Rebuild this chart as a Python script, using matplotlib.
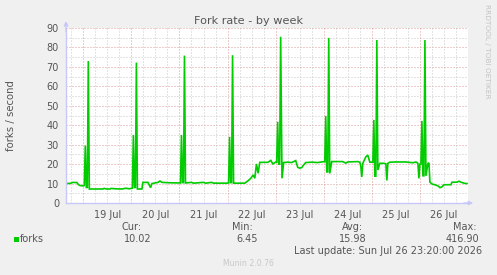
import matplotlib
matplotlib.use("Agg")
import matplotlib.pyplot as plt
import matplotlib.dates as mdates
import pandas as pd
import numpy as np

# ---------------- data ----------------
times = [
    "07-18 15:30", "07-18 17:30", "07-18 18:50", "07-18 20:50", "07-18 21:30", "07-18 22:20", "07-18 23:50",
    "07-19 00:30", "07-19 01:00", "07-19 01:30", "07-19 02:00", "07-19 02:30", "07-19 03:00",
    "07-19 09:50", "07-19 10:20", "07-19 11:50", "07-19 13:20", "07-19 13:50", "07-19 15:50", "07-19 19:20",
    "07-19 21:20", "07-19 22:50", "07-19 23:50",
    "07-20 00:30", "07-20 01:00", "07-20 01:30", "07-20 02:00", "07-20 02:30", "07-20 03:00",
    "07-20 05:15", "07-20 05:45", "07-20 08:15", "07-20 09:35", "07-20 10:15", "07-20 11:45", "07-20 13:15",
    "07-20 14:15", "07-20 15:15", "07-20 17:15", "07-20 19:15", "07-20 23:15",
    "07-21 00:30", "07-21 01:00", "07-21 01:30", "07-21 02:00", "07-21 02:30", "07-21 03:00",
    "07-21 06:00", "07-21 07:00", "07-21 12:00", "07-21 13:00", "07-21 16:00", "07-21 17:00", "07-21 23:30",
    "07-22 00:30", "07-22 01:00", "07-22 01:30", "07-22 02:00", "07-22 02:30", "07-22 03:00",
    "07-22 08:35", "07-22 10:05", "07-22 11:35", "07-22 12:45", "07-22 13:35", "07-22 14:25", "07-22 15:15",
    "07-22 16:05", "07-22 20:05", "07-22 21:35", "07-22 22:35",
    "07-23 00:00", "07-23 00:30", "07-23 01:00", "07-23 01:30", "07-23 02:00", "07-23 02:30", "07-23 03:10",
    "07-23 04:00", "07-23 06:00", "07-23 08:00", "07-23 10:00", "07-23 11:00", "07-23 12:00", "07-23 13:00",
    "07-23 14:00", "07-23 15:00", "07-23 18:00", "07-23 21:00", "07-23 23:30",
    "07-24 00:30", "07-24 01:00", "07-24 01:30", "07-24 02:00", "07-24 02:30", "07-24 03:00",
    "07-24 04:00", "07-24 09:30", "07-24 11:00", "07-24 12:00", "07-24 17:00", "07-24 18:00", "07-24 18:30",
    "07-24 19:00", "07-24 19:30", "07-24 21:00", "07-24 22:00", "07-24 23:00",
    "07-25 00:30", "07-25 01:00", "07-25 01:30", "07-25 02:00", "07-25 02:30", "07-25 03:00",
    "07-25 04:00", "07-25 06:00", "07-25 07:00", "07-25 07:30", "07-25 08:00", "07-25 09:00", "07-25 12:00",
    "07-25 17:00", "07-25 20:30", "07-25 22:00", "07-25 23:00", "07-25 23:30",
    "07-26 00:00", "07-26 00:30", "07-26 01:00", "07-26 01:30", "07-26 02:00", "07-26 02:30", "07-26 03:00",
    "07-26 04:00", "07-26 04:30", "07-26 05:00", "07-26 06:00", "07-26 07:00", "07-26 08:00", "07-26 09:00",
    "07-26 10:00", "07-26 11:00", "07-26 12:00", "07-26 15:30", "07-26 16:00", "07-26 18:30", "07-26 19:30",
    "07-26 20:30", "07-26 22:00", "07-26 23:00", "07-26 23:30",
]
forks = [
    10.0, 10.1, 10.6, 10.5, 9.5, 9.0, 8.8,
    9.0, 29.5, 8.0, 8.0, 73.0, 7.2,
    7.2, 7.5, 7.2, 7.2, 7.5, 7.3, 7.2,
    7.6, 7.3, 7.5,
    7.6, 35.0, 8.0, 8.0, 72.2, 7.2,
    7.2, 10.6, 10.6, 7.9, 10.0, 10.3, 10.6,
    11.3, 10.6, 10.5, 10.4, 10.3,
    10.3, 35.0, 10.5, 10.5, 75.8, 10.3,
    10.6, 10.2, 10.6, 10.2, 10.6, 10.2, 10.2,
    10.3, 34.0, 10.5, 10.5, 76.0, 10.2,
    10.2, 11.3, 12.7, 14.4, 12.7, 20.1, 15.3,
    20.9, 20.9, 21.9, 20.1,
    21.0, 21.0, 41.8, 20.0, 20.0, 85.5, 12.7,
    20.8, 21.0, 20.8, 21.8, 18.4, 17.9, 18.2,
    19.6, 20.8, 21.0, 20.8, 21.2,
    21.2, 44.8, 16.0, 16.0, 84.9, 15.2,
    21.3, 21.3, 20.5, 21.1, 21.3, 21.0, 18.9,
    13.4, 20.4, 23.7, 24.6, 21.0,
    21.0, 42.7, 13.8, 13.8, 83.8, 17.0,
    20.4, 20.4, 20.2, 11.6, 20.4, 21.0, 21.1,
    21.1, 20.7, 21.1, 20.4, 12.7,
    20.0, 20.0, 42.2, 14.0, 14.0, 83.8, 14.0,
    20.4, 20.6, 10.7, 9.8, 9.5, 9.2, 8.8,
    7.9, 8.3, 9.4, 9.4, 10.7, 10.7, 11.2,
    10.7, 10.2, 10.0, 10.02,
]
day_labels = ["19 Jul", "20 Jul", "21 Jul", "22 Jul", "23 Jul", "24 Jul", "25 Jul", "26 Jul"]
y_ticks = [0, 10, 20, 30, 40, 50, 60, 70, 80, 90]
stat_names = ["Cur:", "Min:", "Avg:", "Max:"]
stat_values = ["10.02", "6.45", "15.98", "416.90"]
series_name = "forks"
title = "Fork rate - by week"
ylabel = "forks / second"
last_update = "Last update: Sun Jul 26 23:20:00 2026"
x_start = "2026-07-18 15:22"
x_end = "2026-07-27 00:00"

# ---------------- figure ----------------
W, H = 497, 275
BG = "#f0f0f0"
TXT = "#555555"
GREEN = "#00cc00"
AXC = "#c8c8f8"

plt.rcParams["font.family"] = ["DejaVu Sans"]

fig = plt.figure(figsize=(W / 100, H / 100), dpi=100, facecolor=BG)

def fx(x):
    return x / W

def fy(y):
    return 1 - y / H

L, R, T, B = 66, 468, 28, 203
ax = fig.add_axes([fx(L), fy(B), (R - L) / W, (B - T) / H])
ax.set_facecolor("white")

t = pd.to_datetime(["2026-" + s for s in times])
xs, xe = pd.Timestamp(x_start), pd.Timestamp(x_end)

# grid lines
dots = (0, (1, 2))
GRAY = "#c8c8c8"
RED = "#e09a9a"
for v in np.arange(5, 91, 10):
    ax.axhline(v, color=GRAY, lw=0.72, ls=dots, zorder=1)
for v in np.arange(10, 91, 10):
    ax.axhline(v, color=RED, lw=0.72, ls=dots, zorder=1)
for g in pd.date_range(xs.ceil("6h"), xe, freq="6h"):
    if g.hour == 0:
        ax.axvline(g, color=RED, lw=0.72, ls=dots, zorder=1)
    else:
        ax.axvline(g, color=GRAY, lw=0.72, ls=dots, zorder=1)

ax.plot(t, forks, color=GREEN, lw=1.2, zorder=3, solid_joinstyle="miter")

ax.set_xlim(xs, xe)
ax.set_ylim(0, 90)

noon = pd.date_range("2026-07-19 12:00", periods=len(day_labels), freq="1D")
ax.set_xticks(noon)
ax.set_xticklabels(day_labels)
ax.set_yticks(y_ticks)
ax.set_yticklabels([str(v) for v in y_ticks])
ax.tick_params(axis="both", length=0, labelsize=7, colors=TXT)
ax.tick_params(axis="x", pad=5)
ax.tick_params(axis="y", pad=5)

for s in ["top", "right"]:
    ax.spines[s].set_visible(False)
for s in ["left", "bottom"]:
    ax.spines[s].set_color(AXC)
    ax.spines[s].set_linewidth(1.0)
    ax.spines[s].set_zorder(4)

ax.annotate("", xy=(0, 1.04), xytext=(0, 0.98), xycoords="axes fraction",
            arrowprops=dict(arrowstyle="-|>", color=AXC, lw=1, mutation_scale=6,
                            shrinkA=0, shrinkB=0), annotation_clip=False)
ax.annotate("", xy=(1.013, 0), xytext=(0.99, 0), xycoords="axes fraction",
            arrowprops=dict(arrowstyle="-|>", color=AXC, lw=1, mutation_scale=6,
                            shrinkA=0, shrinkB=0), annotation_clip=False)

# texts
fig.text(fx(248), fy(21), title, ha="center", va="center", fontsize=8.1, color=TXT)
fig.text(fx(11), fy(115.5), ylabel, ha="center", va="center", rotation=90, fontsize=7.3, color=TXT)
fig.text(fx(487), fy(51), "RRDTOOL / TOBI OETIKER", ha="center", va="center", rotation=270,
         fontsize=5.3, color="#c4c4c4")

fig.patches.append(plt.Rectangle((fx(14), fy(242)), 5 / W, 5 / H, transform=fig.transFigure,
                                 facecolor=GREEN, edgecolor="none"))
fig.text(fx(20), fy(239), series_name, ha="left", va="center", fontsize=7, color=TXT)

name_right = [142, 253, 363, 477]
val_right = [152, 258, 367, 479]
for nm, vl, nr, vr in zip(stat_names, stat_values, name_right, val_right):
    fig.text(fx(nr), fy(227), nm, ha="right", va="center", fontsize=7, color=TXT)
    fig.text(fx(vr), fy(239), vl, ha="right", va="center", fontsize=7, color=TXT)

fig.text(fx(482), fy(251), last_update, ha="right", va="center", fontsize=7, color=TXT)
fig.text(fx(248), fy(263), "Munin 2.0.76", ha="center", va="center", fontsize=5.6, color="#c8c8c8")

fig.savefig("out.png", dpi=100, facecolor=BG)
